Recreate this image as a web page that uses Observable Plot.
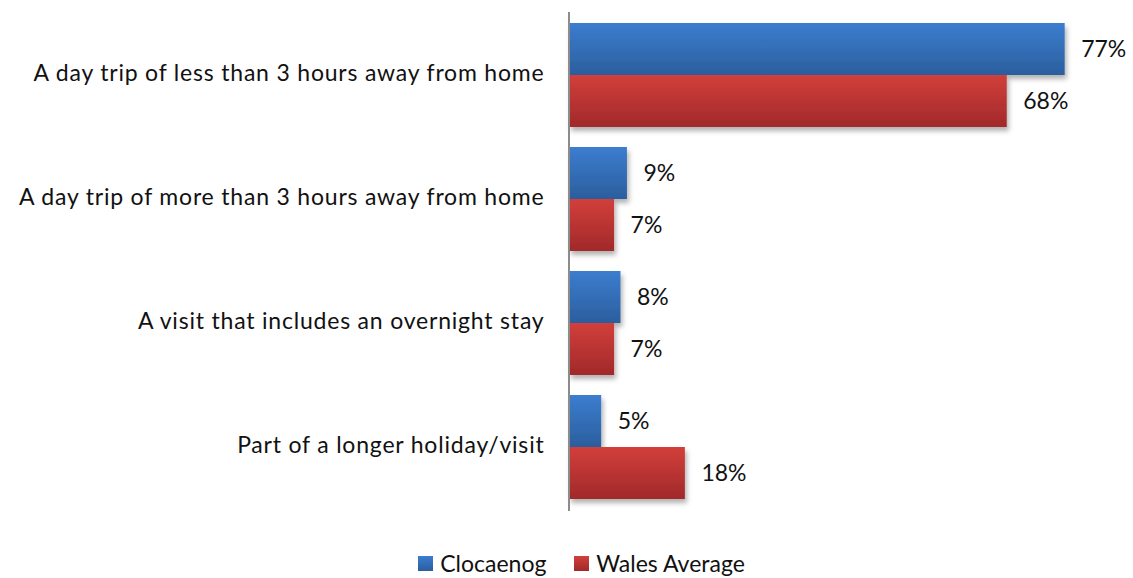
<!DOCTYPE html>
<html>
<head>
<meta charset="utf-8">
<script src="https://cdn.jsdelivr.net/npm/d3@7"></script>
<script src="https://cdn.jsdelivr.net/npm/@observablehq/plot@0.6"></script>
<style>
  html, body { margin: 0; padding: 0; background: #fff; }
  body { width: 1133px; font-family: Lato, "Open Sans", sans-serif; }
  #legend { display: flex; justify-content: center; gap: 28px; font-size: 23px; color: #111; margin-top: 25px; padding-left: 30px; line-height: 28px; }
  .item { display: flex; align-items: center; gap: 7px; }
  .sw { width: 15px; height: 15px; display: inline-block; }
</style>
</head>
<body>
<div id="chart"></div>
<div id="legend"></div>
<script>
const categories = [
  "A day trip of less than 3 hours away from home",
  "A day trip of more than 3 hours away from home",
  "A visit that includes an overnight stay",
  "Part of a longer holiday/visit"
];
const seriesNames = ["Clocaenog", "Wales Average"];
const clocaenog = [77, 9, 8, 5];
const walesAverage = [68, 7, 7, 18];

const data = [];
categories.forEach((c, i) => {
  data.push({category: c, series: seriesNames[0], value: clocaenog[i]});
  data.push({category: c, series: seriesNames[1], value: walesAverage[i]});
});

const gradIds = {"Clocaenog": "url(#gBlue)", "Wales Average": "url(#gRed)"};

const defs = () => {
  const svg = d3.create("svg:g");
  const d = svg.append("defs");
  const b = d.append("linearGradient").attr("id", "gBlue").attr("x1", 0).attr("y1", 0).attr("x2", 0).attr("y2", 1);
  b.append("stop").attr("offset", "0%").attr("stop-color", "#3C7DCF");
  b.append("stop").attr("offset", "100%").attr("stop-color", "#2B5E9E");
  const r = d.append("linearGradient").attr("id", "gRed").attr("x1", 0).attr("y1", 0).attr("x2", 0).attr("y2", 1);
  r.append("stop").attr("offset", "0%").attr("stop-color", "#D23F3B");
  r.append("stop").attr("offset", "100%").attr("stop-color", "#A1292A");
  const f = d.append("filter").attr("id", "shadow").attr("x", "-5%").attr("y", "-5%").attr("width", "120%").attr("height", "130%");
  f.append("feDropShadow").attr("dx", 2).attr("dy", 4).attr("stdDeviation", 2.5).attr("flood-color", "#000").attr("flood-opacity", 0.3);
  return svg.node();
};

const plot = Plot.plot({
  width: 1133,
  height: 524,
  marginLeft: 569,
  marginRight: 49,
  marginTop: 12,
  marginBottom: 13,
  style: {fontFamily: "Lato, 'Open Sans', sans-serif", fontSize: "23px", color: "#111", background: "#fff"},
  x: {domain: [0, 80], axis: null},
  y: {domain: seriesNames, axis: null, padding: 0},
  fy: {domain: categories, paddingInner: 0.16, paddingOuter: 0.08, label: null, axis: null},
  facet: {data, y: "category", label: null},
  marks: [
    defs,
    Plot.axisFy({anchor: "left", tickSize: 0, tickPadding: 25, fontSize: 23, label: null}),
    Plot.barX(data, {y: "series", x: "value", fy: "category", fill: d => gradIds[d.series]}),
    Plot.text(data, {y: "series", x: "value", fy: "category", text: d => d.value + "%", textAnchor: "start", dx: 16, fontSize: 23, fill: "#111"})
  ]
});

// apply shadow to bars
d3.select(plot).selectAll("g[aria-label='bar'] rect").attr("filter", "url(#shadow)");
// slightly wider category labels, as in the reference
d3.select(plot).selectAll("g[aria-label^='fy-axis'] text").style("letter-spacing", "0.8px").attr("dy", "-0.1em");

// continuous vertical axis line at x = 0
const xs = plot.scale("x");
const fyr = plot.scale("fy").range;
d3.select(plot).append("line")
  .attr("x1", xs.apply(0)).attr("x2", xs.apply(0))
  .attr("y1", fyr[0]).attr("y2", fyr[1])
  .attr("stroke", "#8c8c8c").attr("stroke-width", 2);

document.getElementById("chart").appendChild(plot);

const legend = document.getElementById("legend");
const swatchColors = {"Clocaenog": "linear-gradient(#3C7DCF,#2B5E9E)", "Wales Average": "linear-gradient(#D23F3B,#A1292A)"};
seriesNames.forEach(s => {
  const it = document.createElement("div");
  it.className = "item";
  const sw = document.createElement("span");
  sw.className = "sw";
  sw.style.background = swatchColors[s];
  it.appendChild(sw);
  const t = document.createElement("span");
  t.textContent = s;
  it.appendChild(t);
  legend.appendChild(it);
});
</script>
</body>
</html>
